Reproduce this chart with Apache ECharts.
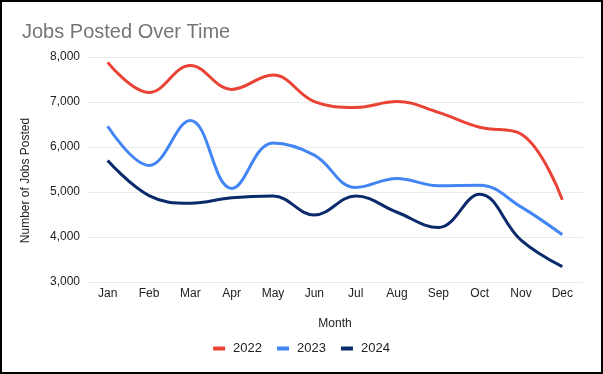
<!DOCTYPE html>
<html>
<head>
<meta charset="utf-8">
<script src="https://cdn.jsdelivr.net/npm/echarts@6/dist/echarts.min.js"></script>
<style>
html,body{margin:0;padding:0;background:#fff;}
#frame{position:absolute;left:0;top:0;width:603px;height:374px;box-sizing:border-box;border:2px solid #000;background:#fff;}
#chart{position:absolute;left:-2px;top:-2px;width:603px;height:374px;}
</style>
</head>
<body>
<div id="frame"><div id="chart"></div></div>
<script>
const months = ['Jan','Feb','Mar','Apr','May','Jun','Jul','Aug','Sep','Oct','Nov','Dec'];
const jobs2022 = [7880, 7210, 7810, 7280, 7600, 7010, 6880, 7010, 6770, 6440, 6290, 4830];
const jobs2023 = [6460, 5590, 6590, 5080, 6090, 5820, 5100, 5300, 5140, 5150, 4670, 4050];
const jobs2024 = [5700, 4920, 4750, 4870, 4910, 4490, 4910, 4550, 4210, 4950, 3930, 3340];
const yTicks = [3000, 4000, 5000, 6000, 7000, 8000];

const font = 'Liberation Sans, Arial, sans-serif';
const chart = echarts.init(document.getElementById('chart'));
chart.setOption({
  animation: false,
  title: {
    text: 'Jobs Posted Over Time',
    left: 17, top: 17,
    textStyle: {fontFamily: font, fontSize: 20, fontWeight: 'normal', color: '#757575'}
  },
  grid: {left: 87, right: 20, top: 57, bottom: 92},
  legend: {
    bottom: 14,
    left: 'center',
    icon: 'rect',
    itemWidth: 12, itemHeight: 4,
    itemGap: 15,
    textStyle: {fontFamily: font, fontSize: 13, color: '#222', padding: [0,0,0,3]},
    data: ['2022','2023','2024']
  },
  xAxis: {
    type: 'category',
    data: months,
    boundaryGap: true,
    name: 'Month',
    nameLocation: 'middle',
    nameGap: 36,
    nameTextStyle: {fontFamily: font, fontSize: 12, color: '#222'},
    axisLine: {show: false},
    axisTick: {show: false},
    axisLabel: {fontFamily: font, fontSize: 12, color: '#222', margin: 6}
  },
  yAxis: {
    type: 'value',
    min: yTicks[0], max: yTicks[yTicks.length-1], interval: 1000,
    name: 'Number of Jobs Posted',
    nameLocation: 'middle',
    nameGap: 55,
    nameTextStyle: {fontFamily: font, fontSize: 12, color: '#222', padding: [0, 22, 0, 0]},
    axisLine: {show: false},
    axisTick: {show: false},
    splitLine: {lineStyle: {color: '#ebebeb', width: 1}},
    axisLabel: {
      fontFamily: font, fontSize: 12, color: '#222', margin: 7,
      formatter: v => v.toLocaleString('en-US')
    }
  },
  series: [
    {name: '2022', type: 'line', data: jobs2022, smooth: 0.4, symbol: 'none',
     lineStyle: {width: 3, color: '#EA4335'}, itemStyle: {color: '#EA4335'}},
    {name: '2023', type: 'line', data: jobs2023, smooth: 0.4, symbol: 'none',
     lineStyle: {width: 3, color: '#4285F4'}, itemStyle: {color: '#4285F4'}},
    {name: '2024', type: 'line', data: jobs2024, smooth: 0.4, symbol: 'none',
     lineStyle: {width: 3, color: '#0B2A6C'}, itemStyle: {color: '#0B2A6C'}}
  ]
});
</script>
</body>
</html>
